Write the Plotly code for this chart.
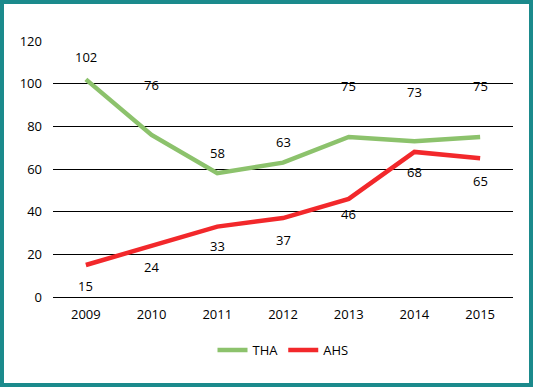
import plotly.graph_objects as go

years = ["2009", "2010", "2011", "2012", "2013", "2014", "2015"]
tha = [102, 76, 58, 63, 75, 73, 75]
ahs = [15, 24, 33, 37, 46, 68, 65]

tha_shift = [22, 50, 20, 21, 51, 49, 51]
ahs_shift = [-21, -21, -19, -22, -15, -20, -23]

W, H = 533, 387
L, R, T, B = 53, 20, 41, 90
pw, ph = W - L - R, H - T - B
FONT = dict(family="Open Sans", size=13, color="#000", weight=500)

fig = go.Figure()
fig.add_trace(go.Scatter(x=years, y=tha, name="THA", mode="lines",
                         line=dict(color="#8CC26C", width=4.5)))
fig.add_trace(go.Scatter(x=years, y=ahs, name="AHS", mode="lines",
                         line=dict(color="#F2282B", width=4.5)))

ann = []
for i, (y, s) in enumerate(zip(tha, tha_shift)):
    ann.append(dict(x=i, y=y, xref="x", yref="y", text=str(y), showarrow=False, yshift=s,
                    font=FONT))
for i, (y, s) in enumerate(zip(ahs, ahs_shift)):
    ann.append(dict(x=i, y=y, xref="x", yref="y", text=str(y), showarrow=False, yshift=s,
                    font=FONT))

def px(xp):
    return (xp - L) / pw

def py(yp):
    return (H - B - yp) / ph

fig.update_layout(
    width=W, height=H,
    margin=dict(l=L, r=R, t=T, b=B),
    paper_bgcolor="white", plot_bgcolor="white",
    font=FONT,
    annotations=ann,
    showlegend=True,
    legend=dict(orientation="h", x=0.5, xanchor="center", y=py(350), yanchor="middle",
                font=FONT),
    xaxis=dict(type="category", categoryorder="array", categoryarray=years,
               range=[-0.5, len(years) - 0.5], autorange=False,
               showgrid=False, showline=False, zeroline=False, ticks="",
               ticklabelstandoff=8, tickfont=FONT),
    yaxis=dict(range=[0, 120], autorange=False, tickvals=[0, 20, 40, 60, 80, 100, 120],
               showgrid=True, gridcolor="black", gridwidth=1,
               zeroline=True, zerolinecolor="black", zerolinewidth=1,
               showline=False, ticks="", ticklen=0, ticklabelstandoff=10,
               tickfont=FONT),
    shapes=[dict(type="rect", xref="paper", yref="paper",
                 x0=px(2), x1=px(W - 2), y0=py(H - 2), y1=py(2),
                 line=dict(color="#1B8A8C", width=4), layer="below")],
)
fig.write_html("out.html", config={"displayModeBar": False},
               post_script="document.body.style.margin='0';document.body.style.overflow='hidden';")
